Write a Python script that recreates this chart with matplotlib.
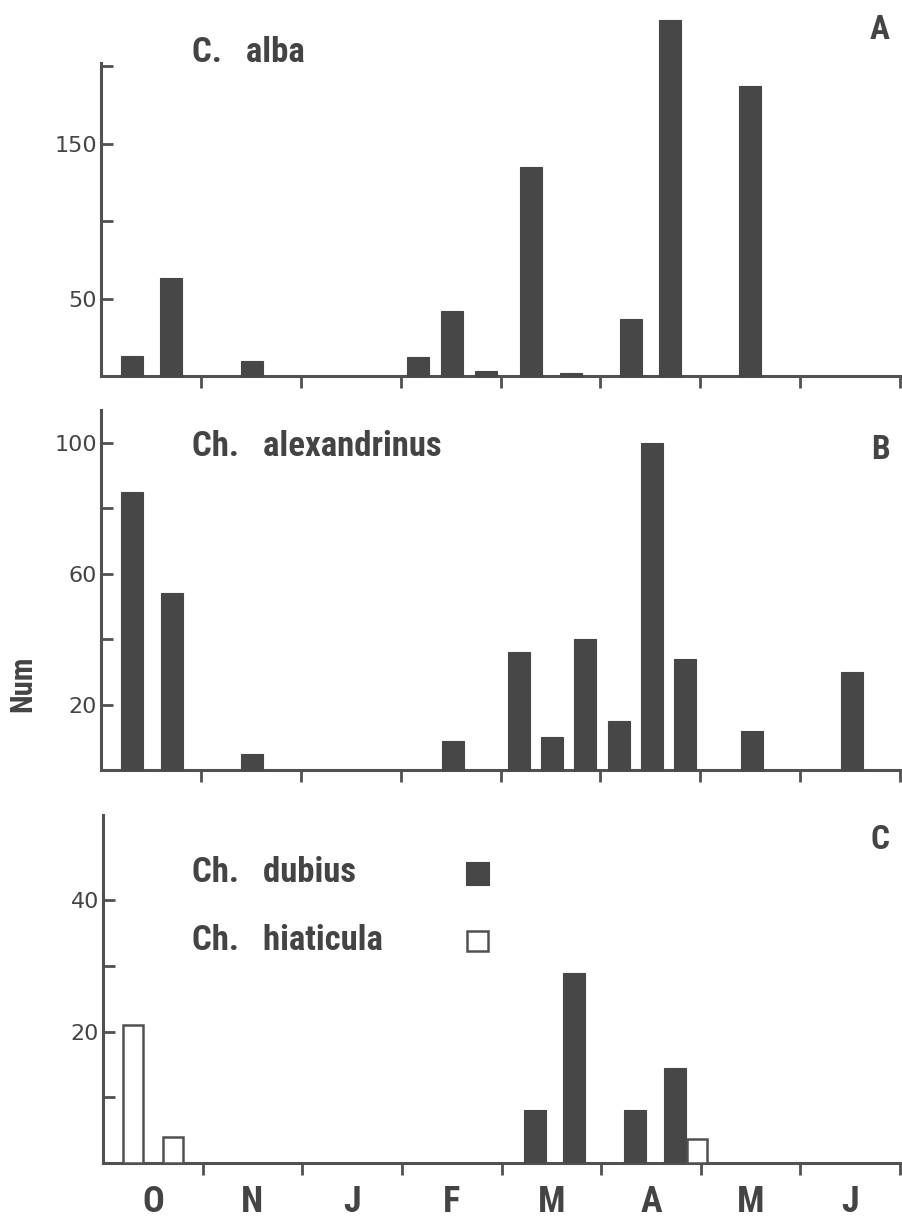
import matplotlib
matplotlib.use('Agg')
import matplotlib.pyplot as plt
from matplotlib import font_manager as fm
from matplotlib.patches import Rectangle
import os

# ---------------- data ----------------
months = ['O', 'N', 'J', 'F', 'M', 'A', 'M', 'J']

# Panel A: C. alba  (x = time in months from start of October)
alba_x = [0.31, 0.70, 1.51, 3.17, 3.51, 3.85, 4.31, 4.71, 5.31, 5.70, 6.50]
alba_n = [13, 63, 10, 12, 42, 3, 135, 2, 37, 230, 187]

# Panel B: Ch. alexandrinus
alex_x = [0.31, 0.71, 1.51, 3.52, 4.19, 4.52, 4.85, 5.19, 5.52, 5.85, 6.52, 7.52]
alex_n = [85, 54, 5, 9, 36, 10, 40, 15, 100, 34, 12, 30]

# Panel C: Ch. dubius (filled) and Ch. hiaticula (open)
dubius_x = [4.34, 4.73, 5.34, 5.74]
dubius_n = [8, 29, 8, 14.5]
hiat_x = [0.30, 0.70, 5.96]
hiat_n = [21, 4, 3.6]

titles = ['C.   alba', 'Ch.   alexandrinus']
legend_labels = ['Ch.   dubius', 'Ch.   hiaticula']
panel_letters = ['A', 'B', 'C']
y_label = 'Num'

# ---------------- style ----------------
BAR = '#474747'
LINE = '#515151'
TXT = '#444444'


def find_font(patterns):
    files = [f.fname for f in fm.fontManager.ttflist]
    for p in patterns:
        for fn in files:
            if os.path.basename(fn).lower().replace(' ', '') == p:
                return fn
    for p in patterns:
        for fn in files:
            if p.split('.')[0] in os.path.basename(fn).lower():
                return fn
    return None


cond = find_font(['robotocondensed-bold.ttf', 'liberationsansnarrow-bold.ttf',
                  'dejavusanscondensed-bold.ttf', 'opensans_condensed-bold.ttf',
                  'opensans-condensedbold.ttf'])


def cfont(size):
    if cond:
        return fm.FontProperties(fname=cond, size=size)
    return fm.FontProperties(family='DejaVu Sans', weight='bold', size=size)


W, H = 902, 1220
fig = plt.figure(figsize=(W / 100, H / 100), dpi=100)
fig.patch.set_facecolor('white')


def px_axes(left, top, right, bottom):
    return fig.add_axes([left / W, 1 - bottom / H, (right - left) / W, (bottom - top) / H])


def style_axis(ax, ymax, yticks, ylabels):
    ax.set_xlim(0, 8.02)
    ax.set_ylim(0, ymax)
    for s in ['top', 'right']:
        ax.spines[s].set_visible(False)
    for s in ['left', 'bottom']:
        ax.spines[s].set_color(LINE)
        ax.spines[s].set_linewidth(2.2)
    ax.set_xticks(range(1, 9))
    ax.set_xticklabels([])
    ax.tick_params(axis='x', which='major', direction='out', length=8.5, width=2.0, color=LINE)
    ax.set_yticks(yticks)
    ax.set_yticklabels(ylabels)
    ax.tick_params(axis='y', direction='in', length=8.5, width=2.0, color=LINE,
                   labelsize=16, labelcolor=TXT, pad=3)
    ax.set_facecolor('none')


# Panel A
axA = px_axes(101, 63, 902, 376)
style_axis(axA, 202, [50, 100, 150, 200], ['50', '', '150', ''])
axA.bar(alba_x, alba_n, width=0.22, color=BAR, edgecolor=BAR, linewidth=0.8, clip_on=False, zorder=3)

# Panel B
axB = px_axes(101, 410, 902, 770)
style_axis(axB, 110, [20, 40, 60, 80, 100], ['20', '', '60', '', '100'])
axB.bar(alex_x, alex_n, width=0.22, color=BAR, edgecolor=BAR, linewidth=0.8, clip_on=False, zorder=3)

# Panel C
axC = px_axes(103, 815, 902, 1163)
style_axis(axC, 53, [10, 20, 30, 40], ['', '20', '', '40'])
axC.bar(dubius_x, dubius_n, width=0.22, color=BAR, edgecolor=BAR, linewidth=0.8, zorder=3)
axC.bar(hiat_x, hiat_n, width=0.20, facecolor='white', edgecolor=LINE, linewidth=1.8, zorder=3)
axC.set_xticks([k + 0.5 for k in range(8)], minor=True)
axC.set_xticklabels(months, minor=True)
axC.tick_params(axis='x', which='minor', length=0, pad=15)
for lab in axC.get_xticklabels(minor=True):
    lab.set_fontproperties(cfont(26))
    lab.set_color(TXT)

# Titles and panel letters
fig.text(192 / W, 1 - 52 / H, titles[0], fontproperties=cfont(25), color=TXT, va='center', ha='left')
fig.text(192 / W, 1 - 447 / H, titles[1], fontproperties=cfont(25), color=TXT, va='center', ha='left')
for letter, yy in zip(panel_letters, [30, 450, 840]):
    fig.text(890 / W, 1 - yy / H, letter, fontproperties=cfont(24), color=TXT, va='center', ha='right')

# Legend for panel C
fig.text(192 / W, 1 - 872 / H, legend_labels[0], fontproperties=cfont(25), color=TXT, va='center', ha='left')
fig.text(192 / W, 1 - 940 / H, legend_labels[1], fontproperties=cfont(25), color=TXT, va='center', ha='left')
fig.patches.append(Rectangle((466 / W, 1 - 885 / H), 23 / W, 23 / H, transform=fig.transFigure,
                             facecolor=BAR, edgecolor=BAR, linewidth=0.8))
fig.patches.append(Rectangle((467 / W, 1 - 951 / H), 21 / W, 20 / H, transform=fig.transFigure,
                             facecolor='white', edgecolor=LINE, linewidth=1.8))

# Y label (partially cut at the edge in the original)
fig.text(22 / W, 1 - 712 / H, y_label, rotation=90, fontproperties=cfont(22), color=TXT,
         ha='center', va='bottom')

fig.savefig('out.png', dpi=100, facecolor='white')
